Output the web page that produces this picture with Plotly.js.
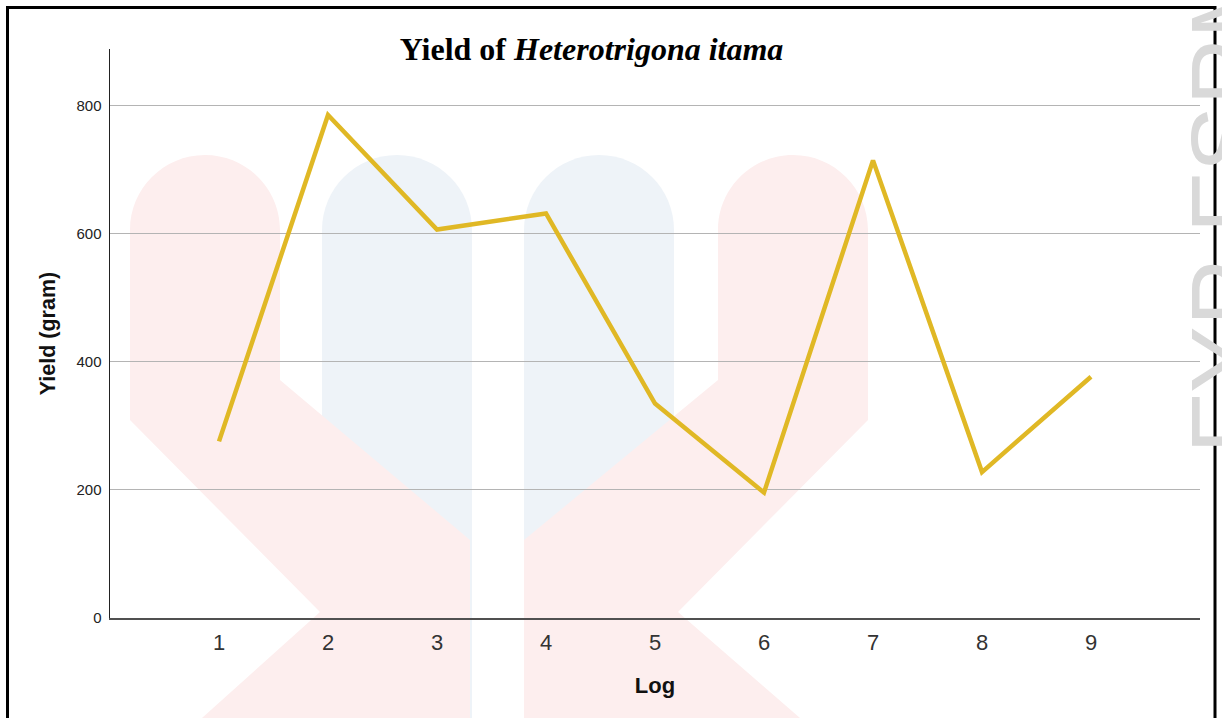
<!DOCTYPE html>
<html>
<head>
<meta charset="utf-8">
<script src="https://cdn.plot.ly/plotly-3.0.1.min.js"></script>
<style>html,body{margin:0;padding:0;background:#fff;}#chart{width:1222px;height:718px;}</style>
</head>
<body>
<div id="chart"></div>
<script>
// ---- data ----
const logs = [1, 2, 3, 4, 5, 6, 7, 8, 9];
const yieldGram = [276, 786, 607, 632, 335, 196, 715, 228, 377];
const xTickLabels = ['1', '2', '3', '4', '5', '6', '7', '8', '9'];
const yTickVals = [0, 200, 400, 600, 800];

// ---- geometry ----
const W = 1222, H = 718;
const M = {l: 110, r: 22, t: 49, b: 100};
const PW = W - M.l - M.r, PH = H - M.t - M.b;
const px = x => (x - M.l) / PW;
const py = y => (H - M.b - y) / PH;
function path(cmds) {
  return cmds.map(c => c[0] + ' ' + c.slice(1).map((v, i) => (i % 2 === 0 ? px(v) : py(v)).toFixed(5)).join(',')).join(' ');
}
function pillarTop(xl, xr, cy) {
  const r = (xr - xl) / 2, cx = (xl + xr) / 2, k = 0.5523;
  return [['C', xl, cy - k * r, cx - k * r, cy - r, cx, cy - r],
          ['C', cx + k * r, cy - r, xr, cy - k * r, xr, cy]];
}
const PINK = 'rgb(253,238,238)', BLUE = 'rgb(238,243,248)';
const wm = [];
function addShape(cmds, color) {
  wm.push({type: 'path', xref: 'paper', yref: 'paper', layer: 'below',
           path: path(cmds) + ' Z', fillcolor: color, line: {width: 0}});
}
// blue pillars (watermark)
addShape([['M', 322, 718], ['L', 322, 230], ...pillarTop(322, 472, 230), ['L', 472, 718]], BLUE);
addShape([['M', 524, 718], ['L', 524, 230], ...pillarTop(524, 674, 230), ['L', 674, 718]], BLUE);
// pink crossing shapes (watermark)
addShape([['M', 130, 420], ['L', 130, 230], ...pillarTop(130, 280, 230), ['L', 280, 380],
          ['L', 470, 540], ['L', 470, 718], ['L', 202, 718], ['L', 320, 612]], PINK);
addShape([['M', 718, 380], ['L', 718, 230], ...pillarTop(718, 868, 230), ['L', 868, 420],
          ['L', 678, 612], ['L', 800, 718], ['L', 524, 718], ['L', 524, 540]], PINK);

// outer frame
wm.push({type: 'rect', xref: 'paper', yref: 'paper', layer: 'above',
         x0: px(7.5), x1: px(1215), y0: py(7.5), y1: py(740),
         line: {color: '#000', width: 3}, fillcolor: 'rgba(0,0,0,0)'});

const trace = {
  x: logs, y: yieldGram, type: 'scatter', mode: 'lines',
  line: {color: '#e0b825', width: 4.5},
  hoverinfo: 'x+y'
};

const layout = {
  width: W, height: H,
  margin: M,
  paper_bgcolor: '#ffffff',
  plot_bgcolor: 'rgba(0,0,0,0)',
  showlegend: false,
  title: {
    text: '<b>Yield of <i>Heterotrigona itama</i></b>',
    font: {family: 'Liberation Serif, Times New Roman, serif', size: 32, color: '#000'},
    xref: 'container', yref: 'container',
    x: 591.5 / W, xanchor: 'center',
    y: 1 - 49 / H, yanchor: 'middle'
  },
  xaxis: {
    range: [0, 10],
    tickvals: logs, ticktext: xTickLabels,
    showgrid: false, zeroline: false,
    showline: true, linecolor: '#505050', linewidth: 2,
    ticks: 'outside', ticklen: 4, tickcolor: 'rgba(0,0,0,0)',
    tickfont: {family: 'Liberation Sans, Arial, sans-serif', size: 22, color: '#333'},
    title: {text: '<b>Log</b>', font: {family: 'Liberation Sans, Arial, sans-serif', size: 22, color: '#111'}, standoff: 23}
  },
  yaxis: {
    range: [0, 889],
    tickvals: yTickVals,
    showgrid: true, gridcolor: '#b4b4b4', gridwidth: 1,
    zeroline: false,
    showline: true, linecolor: '#222', linewidth: 1.5,
    ticks: 'outside', ticklen: 4, tickcolor: 'rgba(0,0,0,0)',
    tickfont: {family: 'Liberation Sans, Arial, sans-serif', size: 15, color: '#222'},
    title: {text: '<b>Yield (gram)</b>', font: {family: 'Liberation Sans, Arial, sans-serif', size: 21.5, color: '#111'}, standoff: 15}
  },
  shapes: wm,
  annotations: [{
    text: 'FYP FSPM', xref: 'paper', yref: 'paper',
    x: px(1168), y: py(205), xanchor: 'left', yanchor: 'middle',
    textangle: -90, showarrow: false,
    font: {family: 'Liberation Sans, Arial, sans-serif', size: 100, color: '#d9d9d9'}
  }]
};

Plotly.newPlot('chart', [trace], layout, {displayModeBar: false, staticPlot: true});
</script>
</body>
</html>
